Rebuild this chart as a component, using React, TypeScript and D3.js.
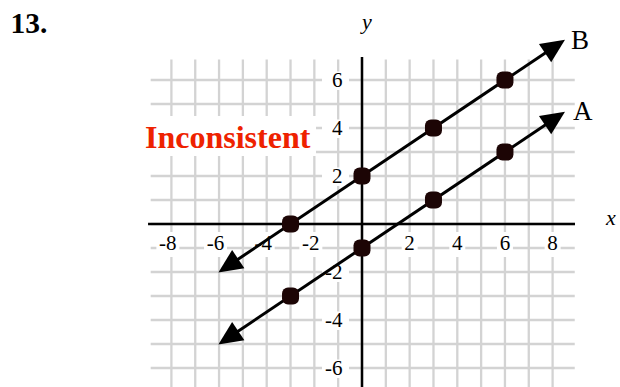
import React from "react";
import * as d3 from "d3";

const W = 620;
const H = 387;

// data (units of the coordinate plane)
const gridXs = d3.range(-8, 9, 1);
const gridYs = d3.range(-7, 7, 1);
const xTickLabels = [-8, -6, -4, -2, 2, 4, 6, 8];
const yTickLabels = [6, 4, 2, -2, -4, -6];
const pointsA: [number, number][] = [[-3, -3], [0, -1], [3, 1], [6, 3]];
const pointsB: [number, number][] = [[-3, 0], [0, 2], [3, 4], [6, 6]];
const lineA = { slope: 2 / 3, intercept: -1, from: -6.03, to: 8.52, label: "A" };
const lineB = { slope: 2 / 3, intercept: 2, from: -6.03, to: 8.52, label: "B" };
const noteText = "Inconsistent";
const problemNumber = "13.";

const x = d3.scaleLinear().domain([0, 8]).range([362, 552.6]);
const y = d3.scaleLinear().domain([0, 6]).range([224, 80]);

const serif = "'Liberation Serif', 'DejaVu Serif', serif";

function arrowHead(tipX: number, tipY: number, fromX: number, fromY: number, len = 24, half = 11) {
  const dx = tipX - fromX;
  const dy = tipY - fromY;
  const d = Math.hypot(dx, dy);
  const ux = dx / d;
  const uy = dy / d;
  const bx = tipX - ux * len;
  const by = tipY - uy * len;
  const px = -uy;
  const py = ux;
  return {
    points: `${tipX},${tipY} ${bx + px * half},${by + py * half} ${bx - px * half},${by - py * half}`,
    base: [bx + ux * 2, by + uy * 2] as [number, number],
  };
}

function LineWithArrows({ l }: { l: typeof lineA }) {
  const x1 = x(l.from), y1 = y(l.slope * l.from + l.intercept);
  const x2 = x(l.to), y2 = y(l.slope * l.to + l.intercept);
  const h1 = arrowHead(x1, y1, x2, y2);
  const h2 = arrowHead(x2, y2, x1, y1);
  return (
    <g>
      <line x1={h1.base[0]} y1={h1.base[1]} x2={h2.base[0]} y2={h2.base[1]} stroke="#000" strokeWidth={3} />
      <polygon points={h1.points} fill="#000" />
      <polygon points={h2.points} fill="#000" />
    </g>
  );
}

export default function App() {
  const gridColor = "#d3d3d3";
  return (
    <svg width={W} height={H} style={{ position: "absolute", left: 0, top: 0, background: "#fff" }}>
      <rect width={W} height={H} fill="#fff" />
      {/* grid */}
      {gridXs.map((gx) => (
        <line key={"vx" + gx} x1={x(gx)} x2={x(gx)} y1={y(6.85)} y2={y(-7.6)} stroke={gridColor} strokeWidth={2.3} />
      ))}
      {gridYs.map((gy) => (
        <line key={"hy" + gy} x1={x(-8.87)} x2={x(8.93)} y1={y(gy)} y2={y(gy)} stroke={gridColor} strokeWidth={2.3} />
      ))}
      {/* axes */}
      <line x1={x(-8.98)} x2={x(8.94)} y1={y(0)} y2={y(0)} stroke="#000" strokeWidth={2.5} />
      <line x1={x(0)} x2={x(0)} y1={y(6.96)} y2={y(-7.6)} stroke="#000" strokeWidth={2.5} />
      {/* x tick labels */}
      {xTickLabels.map((t) => {
        const cx = x(t);
        const w = t < 0 ? 23 : 16;
        return (
          <g key={"xt" + t}>
            <rect x={cx + 8 - w} y={232} width={w} height={25} fill="#fff" />
            <text x={cx + 5.2} y={249.5} textAnchor="end" fontFamily={serif} fontSize={21} fill="#000">
              {t < 0 ? "-" + Math.abs(t) : String(t)}
            </text>
          </g>
        );
      })}
      {/* y tick labels */}
      {yTickLabels.map((t) => {
        const cy = y(t);
        return (
          <g key={"yt" + t}>
            <rect x={322} y={cy - 8.5} width={27} height={18.5} fill="#fff" />
            <text x={342.5} y={cy + 7} textAnchor="end" fontFamily={serif} fontSize={21} fill="#000">
              {t < 0 ? "-" + Math.abs(t) : String(t)}
            </text>
          </g>
        );
      })}
      {/* note */}
      <rect x={143} y={116} width={173} height={40} fill="#fff" />
      <text x={145} y={147.5} fontFamily={serif} fontWeight="bold" fontSize={32} fill="#ee2200">
        {noteText}
      </text>
      {/* lines */}
      <LineWithArrows l={lineA} />
      <LineWithArrows l={lineB} />
      {[...pointsA, ...pointsB].map(([px, py], i) => (
        <rect key={"p" + i} x={x(px) - 8.5} y={y(py) - 8.5} width={17} height={17} rx={6} ry={6} fill="#1c0505" />
      ))}
      {/* labels */}
      <text x={571} y={49.3} fontFamily={serif} fontSize={27} fill="#000">{lineB.label}</text>
      <text x={573} y={120} fontFamily={serif} fontSize={27} fill="#000">{lineA.label}</text>
      <text x={362} y={29} fontFamily={serif} fontStyle="italic" fontSize={22} fill="#000">y</text>
      <text x={606} y={225} fontFamily={serif} fontStyle="italic" fontSize={22} fill="#000">x</text>
      <text x={10.5} y={33.3} fontFamily={serif} fontWeight="bold" fontSize={29.5} fill="#000">{problemNumber}</text>
    </svg>
  );
}
